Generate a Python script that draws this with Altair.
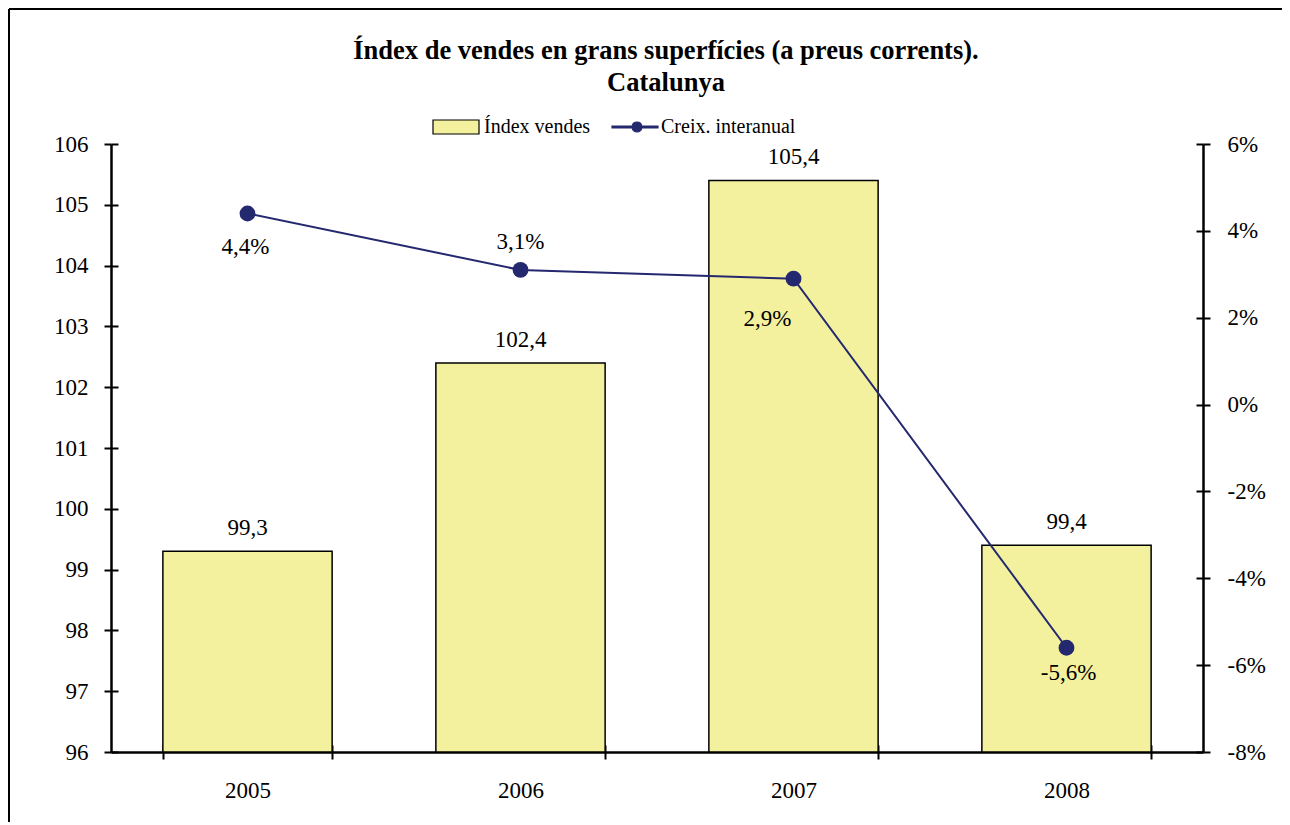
import altair as alt
import pandas as pd

years = ["2005", "2006", "2007", "2008"]
index_values = [99.3, 102.4, 105.4, 99.4]
growth_values = [4.4, 3.1, 2.9, -5.6]
series_names = ["Índex vendes", "Creix. interanual"]
title_lines = ["Índex de vendes en grans superfícies (a preus corrents).", "Catalunya"]

BAR_FILL = "#F3F19E"
LINE_COL = "#24286E"
FONT = "Liberation Serif"
FS = 23

df = pd.DataFrame({"year": years, "index": index_values, "growth": growth_values})
base = alt.Chart(df).transform_calculate(
    idx_label="replace(toString(datum.index), '.', ',')",
    gr_label="replace(toString(datum.growth), '.', ',') + '%'",
)

xscale = alt.Scale(domain=years, paddingInner=0.38, paddingOuter=0.19)
yl_scale = alt.Scale(domain=[96, 106], zero=False, nice=False, clamp=True)
yr_scale = alt.Scale(domain=[-8, 6], zero=False, nice=False)

axis_common = dict(
    labelFont=FONT, labelFontSize=FS, labelColor="black",
    domainColor="black", domainWidth=2.5, tickColor="black", tickWidth=2,
    tickSize=7, grid=False, title=None,
)

x_main = alt.X("year:N", scale=xscale, axis=alt.Axis(
    orient="bottom", labelAngle=0, tickBand="extent", labelPadding=20, **axis_common))
x_none = alt.X("year:N", scale=xscale, axis=None)

bars = base.mark_bar(fill=BAR_FILL, stroke="black", strokeWidth=1.5).encode(
    x=x_main,
    y=alt.Y("index:Q", scale=yl_scale, axis=alt.Axis(
        orient="left", values=list(range(96, 107)), labelPadding=16, **axis_common)),
)

bar_labels = base.mark_text(font=FONT, fontSize=FS, color="black",
                            baseline="middle", dy=-23).encode(
    x=x_none,
    y=alt.Y("index:Q", scale=yl_scale, axis=None),
    text="idx_label:N",
)

left_inner_ticks = base.mark_point(opacity=0).encode(
    x=x_none,
    y=alt.Y("index:Q", scale=yl_scale, axis=alt.Axis(
        orient="left", values=list(range(96, 107)), offset=-7, domain=False,
        labels=False, tickSize=7, tickWidth=2, tickColor="black", grid=False, title=None)),
)

bottom_inner_ticks = base.mark_point(opacity=0).encode(
    x=alt.X("year:N", scale=xscale, axis=alt.Axis(
        orient="bottom", tickBand="extent", offset=-7, domain=False, labels=False,
        tickSize=7, tickWidth=2, tickColor="black", grid=False, title=None)),
    y=alt.Y("index:Q", scale=yl_scale, axis=None),
)

line = base.mark_line(color=LINE_COL, strokeWidth=2).encode(
    x=x_none,
    y=alt.Y("growth:Q", scale=yr_scale, axis=alt.Axis(
        orient="right", values=list(range(-8, 7, 2)), labelPadding=17,
        labelExpr="datum.value + '%'", **axis_common)),
)

points = base.mark_point(filled=True, color=LINE_COL, size=250, opacity=1).encode(
    x=x_none,
    y=alt.Y("growth:Q", scale=yr_scale, axis=None),
)

right_inner_ticks = base.mark_point(opacity=0).encode(
    x=x_none,
    y=alt.Y("growth:Q", scale=yr_scale, axis=alt.Axis(
        orient="right", values=list(range(-8, 7, 2)), offset=-7, domain=False,
        labels=False, tickSize=7, tickWidth=2, tickColor="black", grid=False, title=None)),
)

label_offsets = {"2005": (-2, 34), "2006": (0, -28), "2007": (-26, 40), "2008": (2, 25)}
growth_label_layers = []
for yr in years:
    ddx, ddy = label_offsets[yr]
    growth_label_layers.append(
        base.transform_filter(alt.datum.year == yr).mark_text(
            font=FONT, fontSize=FS, color="black",
            baseline="middle", dx=ddx, dy=ddy
        ).encode(
            x=x_none,
            y=alt.Y("growth:Q", scale=yr_scale, axis=None),
            text="gr_label:N",
        )
    )

rect_path = "M-3.6,-0.7H1V0.7H-3.6Z"
line_path = ("M-3.4,-0.1H-1.39A0.5,0.5 0 0,1 -0.41,-0.1H1.2V0.1H-0.41"
             "A0.5,0.5 0 0,1 -1.39,0.1H-3.4Z")

legend_df = pd.DataFrame({"series": series_names})
leg = alt.Legend(
    orient="none", legendX=347, legendY=-28, direction="horizontal", title=None,
    labelFont=FONT, labelFontSize=20, labelColor="black", symbolSize=400,
    symbolStrokeWidth=1.2, symbolOpacity=1, labelOffset=4, columnPadding=18, padding=0,
)
legend_layer = alt.Chart(legend_df).transform_filter("false").mark_point(filled=True, opacity=1).encode(
    color=alt.Color("series:N", scale=alt.Scale(domain=series_names, range=[BAR_FILL, LINE_COL]), legend=leg),
    shape=alt.Shape("series:N", scale=alt.Scale(domain=series_names, range=[rect_path, line_path]), legend=leg),
    stroke=alt.Stroke("series:N", scale=alt.Scale(domain=series_names, range=["black", LINE_COL]), legend=leg),
)

border_left = alt.Chart(legend_df).mark_rule(color="black", strokeWidth=2).encode(
    x=alt.value(-102), y=alt.value(-135), y2=alt.value(720))
border_top = alt.Chart(legend_df).mark_rule(color="black", strokeWidth=2).encode(
    x=alt.value(-102), x2=alt.value(1175), y=alt.value(-135))

chart = alt.layer(
    bars, bar_labels, left_inner_ticks, bottom_inner_ticks,
    line, points, right_inner_ticks, *growth_label_layers,
    legend_layer, border_left, border_top,
).resolve_scale(
    y="independent"
).resolve_axis(
    y="independent", x="independent"
).properties(
    width=1092, height=608,
    padding={"left": 103, "top": 136, "right": 79, "bottom": 70},
    autosize=alt.AutoSizeParams(type="none"),
    background="white",
    title=alt.TitleParams(
        text=title_lines, font=FONT, fontSize=26.5, fontWeight="bold", color="black",
        anchor="middle", dx=9, offset=-115, lineHeight=32, baseline="bottom",
    ),
).configure_view(stroke=None, strokeWidth=0).configure_axis(grid=False)

chart.save("out.html", embed_options={"renderer": "svg", "actions": False})
